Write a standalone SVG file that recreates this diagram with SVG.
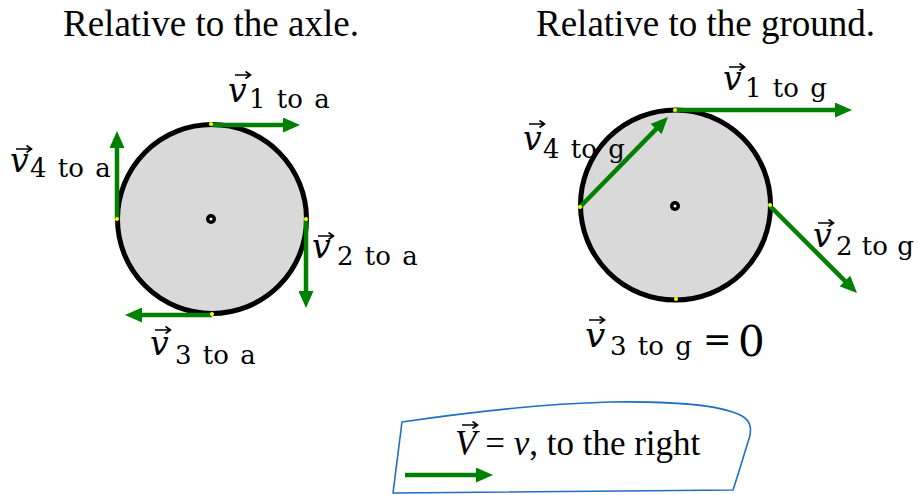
<svg xmlns="http://www.w3.org/2000/svg" xmlns:xlink="http://www.w3.org/1999/xlink" width="919" height="495" viewBox="0 0 919 495">
<style>
.title{font-family:"Liberation Serif","Times New Roman",serif;font-size:37px;fill:#000}
.v{font-family:"DejaVu Serif",serif;font-style:italic;font-size:33px;fill:#000}
.s{font-family:"DejaVu Serif",serif;font-size:26px;word-spacing:3px;fill:#000}
.wheel{fill:#d9d9d9;stroke:#000;stroke-width:5}
.hub{fill:#000}
.hubc{fill:#fff}
.pt{fill:#ffff00}
.vel{fill:none;stroke:#008000;stroke-width:4.5;marker-end:url(#ah)}
.box{fill:none;stroke:#1f6fc4;stroke-width:1.6;stroke-linejoin:round}
.eq{font-family:"Liberation Serif","Times New Roman",serif;font-size:35px;fill:#000}
</style>
<defs>
<marker id="ah" markerUnits="userSpaceOnUse" markerWidth="17" markerHeight="15" refX="8" refY="7.5" orient="auto">
<path d="M0,0 L17,7.5 L0,15 Z" fill="#008000"/>
</marker>
<path id="va" d="M0,0 H15 M10.5,-3.5 L15.5,0 L10.5,3.5" fill="none" stroke="#000" stroke-width="1.6"/>
</defs>
<rect width="919" height="495" fill="#fff"/>

<g id="title-axle"><text class="title" x="63" y="36">Relative to the axle.</text></g>
<g id="title-ground"><text class="title" x="536" y="36">Relative to the ground.</text></g>

<g id="wheel-axle">
<circle class="wheel" cx="212" cy="219" r="94.5"/>
<circle class="hub" cx="211" cy="219" r="5"/>
<circle class="hubc" cx="211" cy="219" r="1.5"/>
</g>
<g id="wheel-ground">
<circle class="wheel" cx="675.5" cy="205" r="95"/>
<circle class="hub" cx="675" cy="206" r="5"/>
<circle class="hubc" cx="675" cy="206" r="1.5"/>
</g>

<g id="connectors">
<path class="vel" d="M212,125 L291,125"/>
<path class="vel" d="M117,219 L117,140"/>
<path class="vel" d="M306,219 L306,299"/>
<path class="vel" d="M212,315 L134,315"/>
<path class="vel" d="M676,110 L843,110"/>
<path class="vel" d="M580,207 L661.7,123.4"/>
<path class="vel" d="M770,206 L850.6,286.6"/>
<path class="vel" d="M405,475 L484,475"/>
</g>

<g id="points">
<circle class="pt" cx="211" cy="124" r="2"/>
<circle class="pt" cx="306" cy="219" r="2"/>
<circle class="pt" cx="212" cy="314" r="2"/>
<circle class="pt" cx="117" cy="219" r="2"/>
<circle class="pt" cx="675" cy="110" r="2"/>
<circle class="pt" cx="770" cy="205" r="2"/>
<circle class="pt" cx="676" cy="299" r="2"/>
<circle class="pt" cx="580" cy="207" r="2"/>
</g>

<g id="label-v1a">
<use xlink:href="#va" x="235" y="75"/>
<text><tspan class="v" x="228" y="102">v</tspan><tspan class="s" x="249" y="108">1 to a</tspan></text>
</g>
<g id="label-v4a">
<use xlink:href="#va" x="16" y="149"/>
<text><tspan class="v" x="10" y="172">v</tspan><tspan class="s" x="30" y="177">4 to a</tspan></text>
</g>
<g id="label-v2a">
<use xlink:href="#va" x="318" y="236"/>
<text><tspan class="v" x="312" y="258">v</tspan><tspan class="s" x="337" y="265">2 to a</tspan></text>
</g>
<g id="label-v3a">
<use xlink:href="#va" x="155" y="330"/>
<text><tspan class="v" x="150" y="355">v</tspan><tspan class="s" x="175" y="364">3 to a</tspan></text>
</g>
<g id="label-v1g">
<use xlink:href="#va" x="729" y="67"/>
<text><tspan class="v" x="723" y="90">v</tspan><tspan class="s" x="745" y="97">1 to g</tspan></text>
</g>
<g id="label-v4g">
<use xlink:href="#va" x="529" y="124"/>
<text><tspan class="v" x="523" y="150">v</tspan><tspan class="s" x="543" y="158">4 to g</tspan></text>
</g>
<g id="label-v2g">
<use xlink:href="#va" x="818" y="223"/>
<text><tspan class="v" x="813" y="247">v</tspan><tspan class="s" x="836" y="255" style="word-spacing:1px">2 to g</tspan></text>
</g>
<g id="label-v3g">
<use xlink:href="#va" x="589" y="320"/>
<text><tspan class="v" x="585" y="347" style="font-size:36px">v</tspan><tspan class="s" x="610" y="355">3 to g</tspan><tspan x="703" y="351" style="font-family:'DejaVu Serif',serif;font-size:34px">=</tspan><tspan x="738" y="356" style="font-family:'DejaVu Serif',serif;font-size:42px">0</tspan></text>
</g>

<g id="legend">
<path class="box" d="M402,422 C470,412 540,404 610,402 C670,401 722,405 742,416 C752,421 752,432 748,442 C743,458 738,475 733,490 C640,491 520,491 393,493 C396,470 399,445 402,422 Z"/>
<use xlink:href="#va" x="462" y="425"/>
<text class="eq" x="455" y="455"><tspan font-style="italic">V</tspan> = <tspan font-style="italic">v</tspan>, to the right</text>
</g>
</svg>
